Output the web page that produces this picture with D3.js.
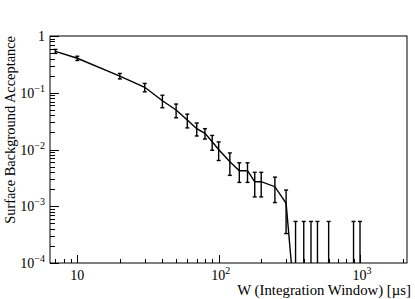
<!DOCTYPE html>
<html>
<head>
<meta charset="utf-8">
<script src="https://cdn.jsdelivr.net/npm/d3@7"></script>
<style>
  body { margin: 0; background: #fff; }
  text { font-family: "Liberation Serif", "Times New Roman", serif; fill: #000; }
</style>
</head>
<body>
<script>
const width = 415;
const height = 299;

// integration window [us]
const windows = [7, 10, 20, 30, 40, 50, 60, 70, 80, 90, 100, 120, 140, 160, 180, 200, 250, 300,
                 350, 400, 450, 500, 600, 900, 1000];
// surface background acceptance
const acceptance = [0.537, 0.405, 0.197, 0.125, 0.0724, 0.0497, 0.033, 0.0233, 0.0193, 0.0137, 0.01,
                    0.0061, 0.00423, 0.00423, 0.00271, 0.00271, 0.00221, 0.00113,
                    0, 0, 0, 0, 0, 0, 0];
// error on the acceptance
const errors = [0.043, 0.035, 0.022, 0.021, 0.018, 0.0135, 0.009, 0.006, 0.004, 0.004, 0.0036,
                0.0026, 0.0016, 0.0016, 0.00125, 0.00125, 0.00105, 0.0008,
                0.00054, 0.00054, 0.00054, 0.00054, 0.00054, 0.00054, 0.00054];

const yTicks = [1, 1e-1, 1e-2, 1e-3, 1e-4];
const yTickLabels = ["1", "10|-1", "10|-2", "10|-3", "10|-4"];
const xTicks = [10, 100, 1000];
const xTickLabels = ["10", "10|2", "10|3"];

const xTitle = "W (Integration Window) [\u00b5s]";
const yTitle = "Surface Background Acceptance";

const frameL = 50, frameR = 407, frameT = 36, frameB = 263;

const x = d3.scaleLog().domain([6.41, 2150]).range([frameL, frameR]);
const y = d3.scaleLog().domain([1e-4, 1]).range([frameB, frameT]);
// zero entries are pushed below the frame (log axis)
const floorVal = 1.4e-5;

const svg = d3.select("body")
	.append("svg")
	.attr("width", width)
	.attr("height", height);

svg.append("clipPath")
	.attr("id", "plot")
	.append("rect")
	.attr("x", frameL)
	.attr("y", frameT)
	.attr("width", frameR - frameL)
	.attr("height", frameB - frameT);

// frame
svg.append("rect")
	.attr("x", frameL)
	.attr("y", frameT)
	.attr("width", frameR - frameL)
	.attr("height", frameB - frameT)
	.attr("fill", "none")
	.attr("stroke", "#000")
	.attr("stroke-width", 1);

// minor ticks
const yMinor = [];
for (let e = -4; e < 0; e++) {
	for (let m = 2; m <= 9; m++) yMinor.push(m * Math.pow(10, e));
}
const xMinor = [];
for (let e = 0; e <= 3; e++) {
	for (let m = 2; m <= 9; m++) {
		const v = m * Math.pow(10, e);
		if (v > x.domain()[0] && v < x.domain()[1]) xMinor.push(v);
	}
}

const ticks = svg.append("g")
	.attr("stroke", "#000")
	.attr("stroke-width", 1);

ticks.selectAll(".ymin")
	.data(yMinor)
	.enter().append("line")
	.attr("x1", frameL).attr("x2", frameL + 5)
	.attr("y1", (d) => Math.round(y(d)) + 0.5)
	.attr("y2", (d) => Math.round(y(d)) + 0.5);

ticks.selectAll(".ymaj")
	.data(yTicks)
	.enter().append("line")
	.attr("x1", frameL).attr("x2", frameL + 9)
	.attr("y1", (d) => Math.round(y(d)) + 0.5)
	.attr("y2", (d) => Math.round(y(d)) + 0.5);

ticks.selectAll(".xmin")
	.data(xMinor)
	.enter().append("line")
	.attr("x1", (d) => Math.round(x(d)) + 0.5)
	.attr("x2", (d) => Math.round(x(d)) + 0.5)
	.attr("y1", frameB).attr("y2", frameB - 4);

ticks.selectAll(".xmaj")
	.data(xTicks)
	.enter().append("line")
	.attr("x1", (d) => Math.round(x(d)) + 0.5)
	.attr("x2", (d) => Math.round(x(d)) + 0.5)
	.attr("y1", frameB).attr("y2", frameB - 8);

// labels with optional superscript, "base|exp"
function addLabel(sel, lab) {
	const parts = lab.split("|");
	sel.append("tspan").text(parts[0]);
	if (parts.length > 1) {
		sel.append("tspan")
			.attr("dy", -6)
			.attr("font-size", 10)
			.text(parts[1].replace("-", "\u2212"));
	}
}

yTicks.forEach((t, i) => {
	const txt = svg.append("text")
		.attr("x", 45)
		.attr("y", y(t) + 5)
		.attr("text-anchor", "end")
		.attr("font-size", 14);
	addLabel(txt, yTickLabels[i]);
});

xTicks.forEach((t, i) => {
	const txt = svg.append("text")
		.attr("x", x(t) + (i > 0 ? 2 : 0))
		.attr("y", 279.5)
		.attr("text-anchor", "middle")
		.attr("font-size", 14);
	addLabel(txt, xTickLabels[i]);
});

svg.append("text")
	.attr("x", 411)
	.attr("y", 295)
	.attr("text-anchor", "end")
	.attr("font-size", 14.8)
	.text(xTitle);

svg.append("text")
	.attr("transform", "translate(15," + frameT + ") rotate(-90)")
	.attr("text-anchor", "end")
	.attr("font-size", 14.4)
	.text(yTitle);

// data
const plot = svg.append("g").attr("clip-path", "url(#plot)");

const pts = windows.map((w, i) => ({ w: w, v: acceptance[i], e: errors[i] }));

const line = d3.line()
	.x((d) => x(d.w))
	.y((d) => y(Math.max(d.v, floorVal)));

plot.append("path")
	.datum(pts)
	.attr("d", line)
	.attr("fill", "none")
	.attr("stroke", "#000")
	.attr("stroke-width", 1.4);

const bars = plot.append("g")
	.attr("stroke", "#000")
	.attr("stroke-width", 1.4);

pts.forEach((d) => {
	const px = x(d.w);
	const y1 = y(d.v + d.e);
	const y0 = y(Math.max(d.v - d.e, floorVal));
	bars.append("line").attr("x1", px).attr("x2", px).attr("y1", y0).attr("y2", y1);
	bars.append("line").attr("x1", px - 2).attr("x2", px + 2).attr("y1", y1).attr("y2", y1);
	bars.append("line").attr("x1", px - 2).attr("x2", px + 2).attr("y1", y0).attr("y2", y0);
});
</script>
</body>
</html>
